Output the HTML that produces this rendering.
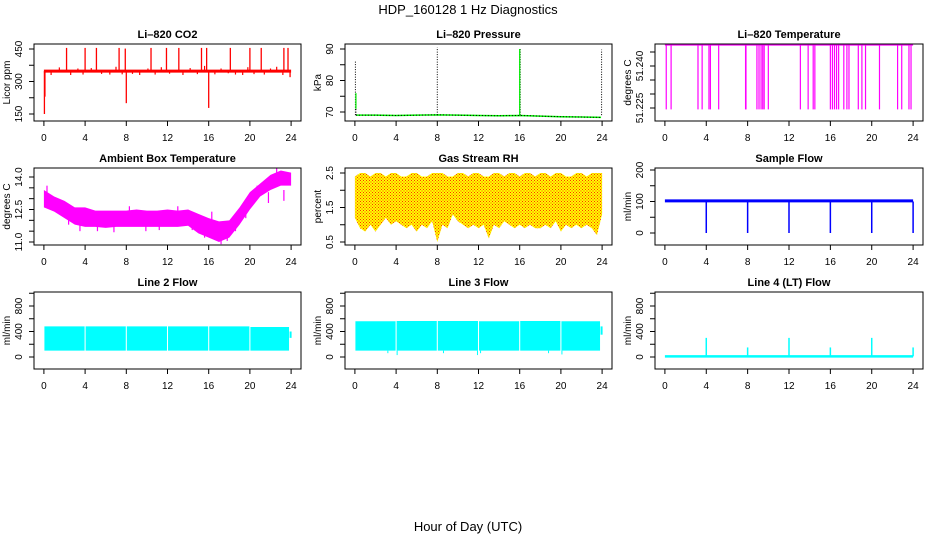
<!DOCTYPE html>
<html><head><meta charset="utf-8"><style>
html,body{margin:0;padding:0;background:#fff;}
svg{display:block;font-family:"Liberation Sans",sans-serif;}
</style></head><body>
<svg id="c" width="936" height="540" viewBox="0 0 936 540" xmlns="http://www.w3.org/2000/svg">
<defs>
<pattern id="rhdots" width="3" height="3" patternUnits="userSpaceOnUse"><rect width="3" height="3" fill="#ffff00"/><rect x="0" y="0" width="1" height="1" fill="#ff3000"/><rect x="1.5" y="1.5" width="1" height="1" fill="#ff3000"/></pattern>
</defs>
<text x="468" y="14" text-anchor="middle" font-size="13">HDP_160128  1 Hz Diagnostics</text>
<text x="468" y="531" text-anchor="middle" font-size="13">Hour of Day (UTC)</text>
</svg>
<script>
// ---- data ----
const xTicks = [0,4,8,12,16,20,24];
// CO2
const co2SpikeHours = [2.2,4.0,5.1,7.3,7.9,10.4,11.9,13.1,15.3,15.8,18.1,20.0,21.1,23.3,23.7];
const co2SpikeVals = [455,455,455,455,452,455,455,455,455,455,455,455,455,455,455];
const co2DipHours = [0.05,0.1,8.0,16.0,23.9];
const co2DipVals = [150,230,200,178,320];
const co2NoiseHours = [0.7,1.5,2.6,3.3,3.8,4.6,5.6,6.4,7.0,7.6,8.6,9.3,10.1,10.8,11.4,12.2,13.5,14.2,14.9,15.6,16.6,17.2,17.9,18.6,19.3,19.8,20.4,21.4,22.0,22.6,23.2];
const co2NoiseVals = [330,365,330,360,332,362,335,332,368,333,335,330,360,332,366,336,330,362,334,372,333,360,338,332,330,366,334,332,360,368,330];
// Pressure
const presHours = [0.1,2,4,6,8,10,12,14,16,18,20,22,23.9];
const presVals = [69.0,69.0,68.9,69.0,69.1,69.0,68.9,68.8,68.9,68.7,68.5,68.4,68.3];
const presSpikeHours = [0.05,0.1,8.0,16.0,16.05,23.95];
const presSpikeVals = [86,75.5,90.5,90.2,90.0,89.8];
// Li-820 temperature
const tempTop = 51.2475;
const tempDropHours = [0.13,0.6,3.2,3.6,4.26,4.4,5.2,7.8,7.84,8.9,9.1,9.3,9.46,9.6,10.0,13.1,13.85,14.34,14.5,16.0,16.2,16.4,16.6,16.8,17.3,17.6,17.8,18.7,19.05,19.4,20.75,22.5,22.9,23.6,23.8];
const tempDropVal = 51.2245;
// Ambient box temperature
const ambHours = [0,1,2,3,4,5,6,7,8,9,10,11,12,13,14,15,16,17,18,19,20,21,22,23,24];
const ambHigh = [13.4,13.1,12.9,12.6,12.6,12.45,12.45,12.45,12.45,12.5,12.45,12.45,12.5,12.45,12.5,12.3,12.1,11.95,12.0,12.6,13.3,13.7,14.1,14.3,14.2];
const ambLow = [12.6,12.4,12.1,11.8,11.7,11.7,11.65,11.7,11.7,11.7,11.7,11.7,11.7,11.7,11.75,11.4,11.2,11.0,11.2,11.8,12.5,13.1,13.4,13.6,13.6];
const ambSpikeHours = [0.3,1.3,2.4,3.5,5.2,6.8,8.3,9.9,11.2,13.0,14.4,15.6,16.3,17.2,17.8,18.6,19.6,20.7,21.8,22.6,23.3];
const ambSpikeVals = [13.6,12.9,11.8,11.5,11.5,11.45,12.65,11.5,11.55,12.65,11.55,11.2,11.9,10.9,11.05,11.5,12.1,13.6,13.3,14.4,13.4];
// Gas stream RH
const rhHours = [0,0.5,1,1.5,2,2.5,3,3.5,4,4.5,5,5.5,6,6.5,7,7.5,8,8.5,9,9.5,10,10.5,11,11.5,12,12.5,13,13.5,14,14.5,15,15.5,16,16.5,17,17.5,18,18.5,19,19.5,20,20.5,21,21.5,22,22.5,23,23.5,24];
const rhLow = [1.2,0.9,0.8,1.0,0.8,1.0,1.2,1.0,1.1,1.0,0.9,1.0,0.8,1.0,0.9,1.1,0.5,1.0,0.9,1.3,1.1,1.0,0.9,1.0,0.9,1.0,0.6,1.0,0.9,1.1,1.0,0.9,1.0,0.9,1.0,0.9,0.9,1.0,0.9,1.1,0.8,1.0,0.9,1.0,0.9,1.0,0.9,0.7,1.3];
const rhHigh = [2.4,2.5,2.5,2.4,2.5,2.5,2.4,2.5,2.5,2.4,2.4,2.5,2.5,2.4,2.4,2.5,2.5,2.5,2.4,2.4,2.5,2.5,2.4,2.5,2.5,2.4,2.4,2.5,2.5,2.4,2.5,2.5,2.4,2.5,2.5,2.4,2.5,2.5,2.4,2.5,2.5,2.4,2.4,2.5,2.5,2.4,2.5,2.5,2.5];
// Sample flow
const sampHours = [0,24];
const sampVals = [102,102];
const sampDropHours = [4,8,12,16,20,24];
const sampDropVals = [0,0,0,0,0,0];
// Line 2 flow
const l2Start = [0.05,4.05,8.05,12.05,16.05,20.05];
const l2End = [3.95,7.95,11.95,15.95,19.95,23.8];
const l2High = [480,480,480,480,480,470];
const l2Low = [100,100,100,100,100,100];
// Line 3 flow
const l3Start = [0.05,4.05,8.05,12.05,16.05,20.05];
const l3End = [3.95,7.95,11.95,15.95,19.95,23.8];
const l3High = [560,565,565,560,565,560];
const l3Low = [100,100,100,100,100,100];
const l3DipHours = [3.2,4.1,8.6,11.9,12.2,18.8,20.1];
const l3DipVals = [60,30,60,30,60,60,40];
// Line 4 flow
const l4Base = 10;
const l4SpikeHours = [4,8,12,16,20,24];
const l4SpikeVals = [300,150,300,150,300,150];

// ---- layout ----
const svg = document.getElementById('c');
const NS = 'http://www.w3.org/2000/svg';
function mk(tag, attrs, parent){const e=document.createElementNS(NS,tag);for(const k in attrs)e.setAttribute(k,attrs[k]);(parent||svg).appendChild(e);return e;}

function makePanel(name, title, ylab, left, top, v1, p1, v2, p2, yTicks, yLabels, pw){
  const W = pw||267, H = 77;
  const g = mk('g',{});
  
  
  const xs = h => left + 9.9 + h*(W-19.8)/24;
  const ys = v => p1 + (v - v1)*(p2-p1)/(v2-v1);
  const t = mk('text',{x:left+W/2,y:top-6,'text-anchor':'middle','font-size':11,'font-weight':'bold'},g);
  t.textContent = title;
  
  
  const plot = mk('g',{},g);
  
  
  const box = mk('rect',{x:left,y:top,width:W,height:H,fill:'none',stroke:'#000','stroke-width':1},g);
  
  
  const xa = mk('g',{},g);
  
  
  mk('line',{x1:xs(xTicks[0]),x2:xs(xTicks[xTicks.length-1]),y1:top+H,y2:top+H,stroke:'#000'},xa);
  xTicks.forEach(h=>{
    mk('line',{x1:xs(h),x2:xs(h),y1:top+H,y2:top+H+5,stroke:'#000'},xa);
    const l = mk('text',{x:xs(h),y:top+H+20,'text-anchor':'middle','font-size':10},xa);
    l.textContent = h;
  });
  const ya = mk('g',{},g);
  
  
  yTicks.forEach(v=>{
    mk('line',{x1:left-5,x2:left,y1:ys(v),y2:ys(v),stroke:'#000'},ya);
  });
  yLabels.forEach(v=>{
    const y = ys(parseFloat(v));
    const l = mk('text',{x:left-12,y:y,'text-anchor':'middle','font-size':10,transform:`rotate(-90 ${left-12} ${y})`},ya);
    l.textContent = v;
  });
  const yl = mk('text',{x:left-24,y:top+H/2,'text-anchor':'middle','font-size':10,transform:`rotate(-90 ${left-24} ${top+H/2})`},g);
  yl.textContent = ylab;
  
  
  return {plot, xs, ys};
}
function vline(P, h, v0, v1, color, w){
  const l = mk('line',{x1:P.xs(h),x2:P.xs(h),y1:P.ys(v0),y2:P.ys(v1),stroke:color,'stroke-width':w||1.2},P.plot);
  
  
  return l;
}
function polyline(P, hs, vs, color, w, dash){
  const pts = hs.map((h,i)=>P.xs(h)+','+P.ys(vs[i])).join(' ');
  const a = {points:pts,fill:'none',stroke:color,'stroke-width':w||1};
  if(dash) a['stroke-dasharray']=dash;
  const l = mk('polyline',a,P.plot);
  
  
  return l;
}
function band(P, hs, lo, hi, fill){
  const pts = hs.map((h,i)=>P.xs(h)+','+P.ys(hi[i])).concat(hs.slice().reverse().map((h,j)=>P.xs(h)+','+P.ys(lo[hs.length-1-j]))).join(' ');
  const p = mk('polygon',{points:pts,fill:fill,stroke:'none'},P.plot);
  
  
  return p;
}

// Row 1
const P1 = makePanel('co2','Li\u2013820 CO2','Licor ppm',34,44,450,49,150,114,[150,225,300,375,450],['150','300','450']);
co2SpikeHours.forEach((h,i)=>vline(P1,h,348,co2SpikeVals[i],'#ff0000',1.3));
co2DipHours.forEach((h,i)=>vline(P1,h,348,co2DipVals[i],'#ff0000',1.3));
co2NoiseHours.forEach((h,i)=>vline(P1,h,348,co2NoiseVals[i],'#ff0000',1.2));
polyline(P1,[0,24],[348,348],'#ff0000',3);

const P2 = makePanel('pressure','Li\u2013820 Pressure','kPa',345,44,90,49,70,112,[70,75,80,85,90],['70','80','90']);
polyline(P2,presHours,presVals,'#00ee00',1.5);
polyline(P2,presHours,presVals,'#000',1,'1 2');
presSpikeHours.forEach((h,i)=>{vline(P2,h,presVals[0],presSpikeVals[i],'#000',1).setAttribute('stroke-dasharray','1 1.5');});
vline(P2,16.0,69,90,'#00ee00',1.2);
vline(P2,0.1,71,76,'#00ee00',1.2);

const P3 = makePanel('li820-temperature','Li\u2013820 Temperature','degrees C',655,44,51.245,52,51.225,108,[51.225,51.230,51.235,51.240,51.245],['51.225','51.240'],268);
polyline(P3,[0,24],[tempTop,tempTop],'#ff00ff',1.3);
tempDropHours.forEach(h=>vline(P3,h,tempTop,tempDropVal,'#ff00ff',1.2));

// Row 2
const P4 = makePanel('ambient-temperature','Ambient Box Temperature','degrees C',34,168,14,177,11,242,[11,11.5,12,12.5,13,13.5,14],['11.0','12.5','14.0']);
band(P4,ambHours,ambLow,ambHigh,'#ff00ff');
ambSpikeHours.forEach((h,i)=>vline(P4,h,12.3,ambSpikeVals[i],'#ff00ff',1.2).setAttribute('y1',P4.ys((ambSpikeVals[i]>12.3? ambSpikeVals[i]-0.5 : ambSpikeVals[i]+0.5))));

const P5 = makePanel('gas-stream-rh','Gas Stream RH','percent',345,168,2.5,173,0.5,242,[0.5,1,1.5,2,2.5],['0.5','1.5','2.5']);
band(P5,rhHours,rhLow,rhHigh,'url(#rhdots)');

const P6 = makePanel('sample-flow','Sample Flow','ml/min',655,168,200,170,0,233,[0,50,100,150,200],['0','100','200'],268);
polyline(P6,sampHours,sampVals,'#0000ff',3);
sampDropHours.forEach((h,i)=>vline(P6,h,100,sampDropVals[i],'#0000ff',1.5));

// Row 3
const P7 = makePanel('line2-flow','Line 2 Flow','ml/min',34,292,800,306,0,357,[0,200,400,600,800,1000],['0','400','800']);
l2Start.forEach((s,i)=>band(P7,[s,l2End[i]],[l2Low[i],l2Low[i]],[l2High[i],l2High[i]],'#00ffff'));
vline(P7,23.95,300,400,'#00ffff',2);

const P8 = makePanel('line3-flow','Line 3 Flow','ml/min',345,292,800,306,0,357,[0,200,400,600,800,1000],['0','400','800']);
l3Start.forEach((s,i)=>band(P8,[s,l3End[i]],[l3Low[i],l3Low[i]],[l3High[i],l3High[i]],'#00ffff'));
l3DipHours.forEach((h,i)=>vline(P8,h,100,l3DipVals[i],'#00ffff',1));
vline(P8,23.95,350,480,'#00ffff',2);

const P9 = makePanel('line4-flow','Line 4 (LT) Flow','ml/min',655,292,800,306,0,357,[0,200,400,600,800,1000],['0','400','800'],268);
polyline(P9,[0,24],[l4Base,l4Base],'#00ffff',2.5);
l4SpikeHours.forEach((h,i)=>vline(P9,h,l4Base,l4SpikeVals[i],'#00ffff',1.5));
</script>
</body></html>
